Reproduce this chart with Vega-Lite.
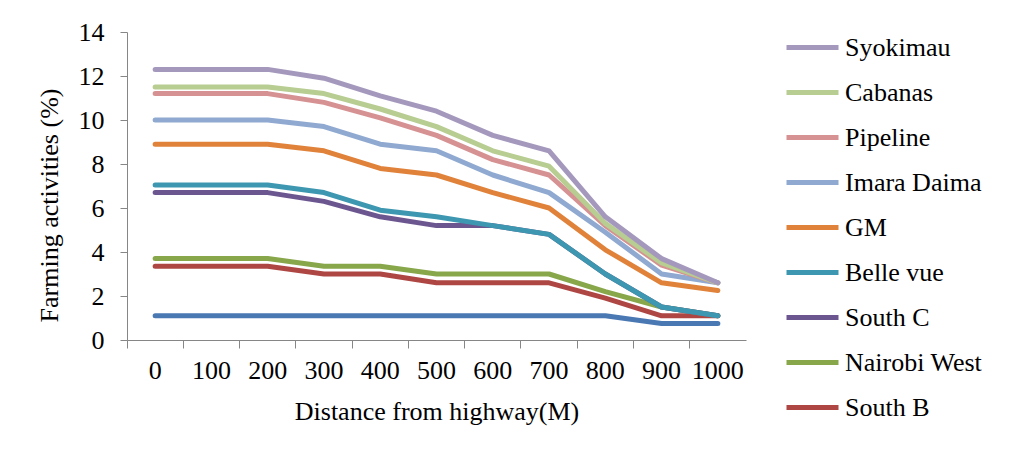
{
  "$schema": "https://vega.github.io/schema/vega-lite/v6.json",
  "autosize": "none",
  "width": 619,
  "height": 308,
  "padding": {"left": 127, "top": 32, "right": 267, "bottom": 116},
  "background": "white",
  "config": {
    "view": {"stroke": null},
    "font": "Times New Roman, Liberation Serif, serif",
    "axis": {"labelFont": "Times New Roman, Liberation Serif, serif", "titleFont": "Times New Roman, Liberation Serif, serif", "labelFontSize": 26, "titleFontSize": 26, "labelColor": "black", "titleColor": "black", "titleFontWeight": "normal", "domainColor": "#868686", "tickColor": "#868686", "grid": false}
  },
  "data": {"values": [
    {"site": "Other", "d": 0, "v": 1.1}, {"site": "Other", "d": 100, "v": 1.1}, {"site": "Other", "d": 200, "v": 1.1}, {"site": "Other", "d": 300, "v": 1.1}, {"site": "Other", "d": 400, "v": 1.1}, {"site": "Other", "d": 500, "v": 1.1}, {"site": "Other", "d": 600, "v": 1.1}, {"site": "Other", "d": 700, "v": 1.1}, {"site": "Other", "d": 800, "v": 1.1}, {"site": "Other", "d": 900, "v": 0.75}, {"site": "Other", "d": 1000, "v": 0.75},
    {"site": "South B", "d": 0, "v": 3.35}, {"site": "South B", "d": 100, "v": 3.35}, {"site": "South B", "d": 200, "v": 3.35}, {"site": "South B", "d": 300, "v": 3.0}, {"site": "South B", "d": 400, "v": 3.0}, {"site": "South B", "d": 500, "v": 2.6}, {"site": "South B", "d": 600, "v": 2.6}, {"site": "South B", "d": 700, "v": 2.6}, {"site": "South B", "d": 800, "v": 1.9}, {"site": "South B", "d": 900, "v": 1.1}, {"site": "South B", "d": 1000, "v": 1.1},
    {"site": "Nairobi West", "d": 0, "v": 3.7}, {"site": "Nairobi West", "d": 100, "v": 3.7}, {"site": "Nairobi West", "d": 200, "v": 3.7}, {"site": "Nairobi West", "d": 300, "v": 3.35}, {"site": "Nairobi West", "d": 400, "v": 3.35}, {"site": "Nairobi West", "d": 500, "v": 3.0}, {"site": "Nairobi West", "d": 600, "v": 3.0}, {"site": "Nairobi West", "d": 700, "v": 3.0}, {"site": "Nairobi West", "d": 800, "v": 2.2}, {"site": "Nairobi West", "d": 900, "v": 1.5}, {"site": "Nairobi West", "d": 1000, "v": 1.1},
    {"site": "South C", "d": 0, "v": 6.7}, {"site": "South C", "d": 100, "v": 6.7}, {"site": "South C", "d": 200, "v": 6.7}, {"site": "South C", "d": 300, "v": 6.3}, {"site": "South C", "d": 400, "v": 5.6}, {"site": "South C", "d": 500, "v": 5.2}, {"site": "South C", "d": 600, "v": 5.2}, {"site": "South C", "d": 700, "v": 4.8}, {"site": "South C", "d": 800, "v": 3.0}, {"site": "South C", "d": 900, "v": 1.5}, {"site": "South C", "d": 1000, "v": 1.1},
    {"site": "Belle vue", "d": 0, "v": 7.05}, {"site": "Belle vue", "d": 100, "v": 7.05}, {"site": "Belle vue", "d": 200, "v": 7.05}, {"site": "Belle vue", "d": 300, "v": 6.7}, {"site": "Belle vue", "d": 400, "v": 5.9}, {"site": "Belle vue", "d": 500, "v": 5.6}, {"site": "Belle vue", "d": 600, "v": 5.2}, {"site": "Belle vue", "d": 700, "v": 4.8}, {"site": "Belle vue", "d": 800, "v": 3.0}, {"site": "Belle vue", "d": 900, "v": 1.5}, {"site": "Belle vue", "d": 1000, "v": 1.1},
    {"site": "GM", "d": 0, "v": 8.9}, {"site": "GM", "d": 100, "v": 8.9}, {"site": "GM", "d": 200, "v": 8.9}, {"site": "GM", "d": 300, "v": 8.6}, {"site": "GM", "d": 400, "v": 7.8}, {"site": "GM", "d": 500, "v": 7.5}, {"site": "GM", "d": 600, "v": 6.7}, {"site": "GM", "d": 700, "v": 6.0}, {"site": "GM", "d": 800, "v": 4.1}, {"site": "GM", "d": 900, "v": 2.6}, {"site": "GM", "d": 1000, "v": 2.25},
    {"site": "Imara Daima", "d": 0, "v": 10.0}, {"site": "Imara Daima", "d": 100, "v": 10.0}, {"site": "Imara Daima", "d": 200, "v": 10.0}, {"site": "Imara Daima", "d": 300, "v": 9.7}, {"site": "Imara Daima", "d": 400, "v": 8.9}, {"site": "Imara Daima", "d": 500, "v": 8.6}, {"site": "Imara Daima", "d": 600, "v": 7.5}, {"site": "Imara Daima", "d": 700, "v": 6.7}, {"site": "Imara Daima", "d": 800, "v": 4.9}, {"site": "Imara Daima", "d": 900, "v": 3.0}, {"site": "Imara Daima", "d": 1000, "v": 2.6},
    {"site": "Pipeline", "d": 0, "v": 11.2}, {"site": "Pipeline", "d": 100, "v": 11.2}, {"site": "Pipeline", "d": 200, "v": 11.2}, {"site": "Pipeline", "d": 300, "v": 10.8}, {"site": "Pipeline", "d": 400, "v": 10.1}, {"site": "Pipeline", "d": 500, "v": 9.3}, {"site": "Pipeline", "d": 600, "v": 8.2}, {"site": "Pipeline", "d": 700, "v": 7.5}, {"site": "Pipeline", "d": 800, "v": 5.2}, {"site": "Pipeline", "d": 900, "v": 3.4}, {"site": "Pipeline", "d": 1000, "v": 2.6},
    {"site": "Cabanas", "d": 0, "v": 11.5}, {"site": "Cabanas", "d": 100, "v": 11.5}, {"site": "Cabanas", "d": 200, "v": 11.5}, {"site": "Cabanas", "d": 300, "v": 11.2}, {"site": "Cabanas", "d": 400, "v": 10.5}, {"site": "Cabanas", "d": 500, "v": 9.7}, {"site": "Cabanas", "d": 600, "v": 8.6}, {"site": "Cabanas", "d": 700, "v": 7.9}, {"site": "Cabanas", "d": 800, "v": 5.3}, {"site": "Cabanas", "d": 900, "v": 3.5}, {"site": "Cabanas", "d": 1000, "v": 2.6},
    {"site": "Syokimau", "d": 0, "v": 12.3}, {"site": "Syokimau", "d": 100, "v": 12.3}, {"site": "Syokimau", "d": 200, "v": 12.3}, {"site": "Syokimau", "d": 300, "v": 11.9}, {"site": "Syokimau", "d": 400, "v": 11.1}, {"site": "Syokimau", "d": 500, "v": 10.4}, {"site": "Syokimau", "d": 600, "v": 9.3}, {"site": "Syokimau", "d": 700, "v": 8.6}, {"site": "Syokimau", "d": 800, "v": 5.6}, {"site": "Syokimau", "d": 900, "v": 3.7}, {"site": "Syokimau", "d": 1000, "v": 2.6}
  ]},
  "mark": {"type": "line", "strokeWidth": 5, "strokeCap": "round", "strokeJoin": "round"},
  "encoding": {
    "x": {
      "field": "d", "type": "ordinal",
      "scale": {"type": "band", "paddingInner": 0, "paddingOuter": 0},
      "axis": {"title": "Distance from highway(M)", "labelAngle": 0, "tickSize": 8, "bandPosition": 0, "labelPadding": 9, "titlePadding": 15}
    },
    "y": {
      "field": "v", "type": "quantitative",
      "scale": {"domain": [0, 14], "nice": false},
      "axis": {"title": "Farming activities (%)", "values": [0, 2, 4, 6, 8, 10, 12, 14], "tickSize": 7, "labelPadding": 16, "titlePadding": 16, "titleY": 173}
    },
    "color": {
      "field": "site", "type": "nominal",
      "scale": {
        "domain": ["Syokimau", "Cabanas", "Pipeline", "Imara Daima", "GM", "Belle vue", "South C", "Nairobi West", "South B", "Other"],
        "range": ["#A598BD", "#B7CD91", "#D69192", "#8FA9D0", "#E0823A", "#3D97B0", "#6C5690", "#87A74A", "#AE4744", "#4A78B3"]
      },
      "legend": {
        "title": null,
        "values": ["Syokimau", "Cabanas", "Pipeline", "Imara Daima", "GM", "Belle vue", "South C", "Nairobi West", "South B"],
        "orient": "none", "legendX": 657, "legendY": -13,
        "symbolType": "stroke", "symbolStrokeWidth": 5, "symbolSize": 2704,
        "labelFont": "Times New Roman, Liberation Serif, serif", "labelFontSize": 26, "labelColor": "black",
        "labelOffset": 4, "rowPadding": 3, "padding": 0
      }
    }
  }
}
